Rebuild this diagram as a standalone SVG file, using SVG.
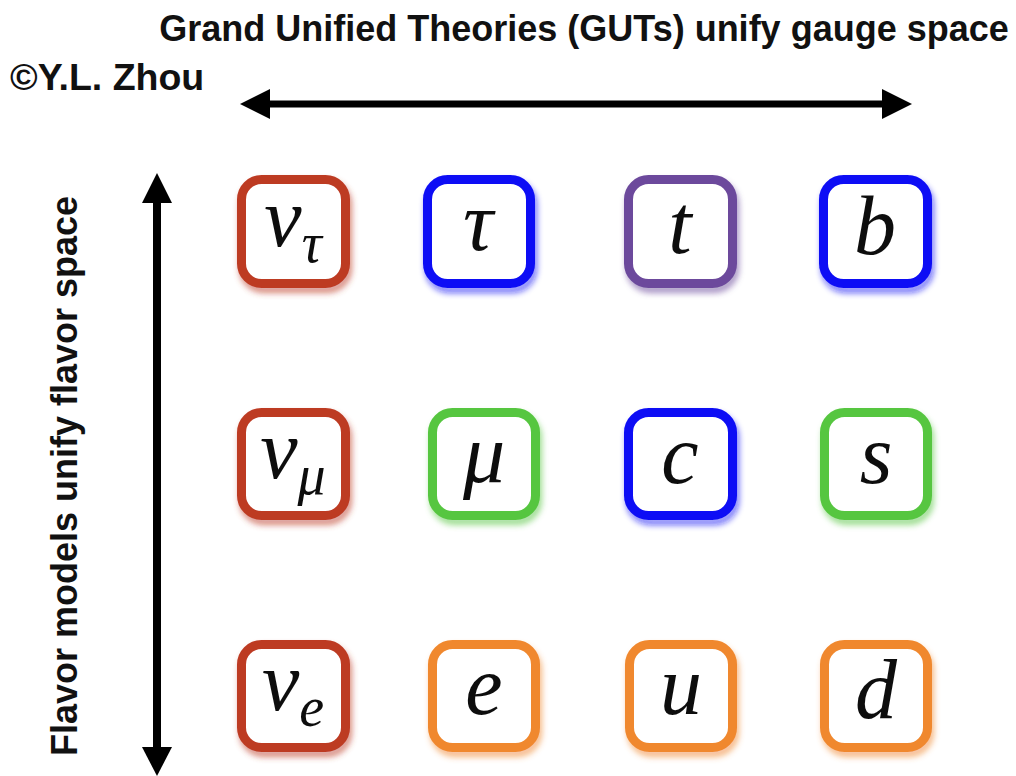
<svg xmlns="http://www.w3.org/2000/svg" width="1016" height="776" viewBox="0 0 1016 776">
<defs>
<style>
.lbl{font-family:"Liberation Sans",Arial,sans-serif;font-weight:bold;fill:#111}
.box{fill:#fff;stroke-width:9}
.m{font-family:"Liberation Serif","DejaVu Serif",serif;font-style:italic;font-size:84px;fill:#111;text-anchor:middle}
.s{font-size:56px}
.red{stroke:#bd3a24}.blue{stroke:#0a0af5}.pur{stroke:#6c4a9c}.grn{stroke:#56c640}.org{stroke:#f0882e}
.conn{stroke:#000;fill:none}
</style>
<filter id="sh" x="-20%" y="-20%" width="150%" height="150%">
<feGaussianBlur in="SourceGraphic" stdDeviation="3" result="b"/>
<feOffset in="b" dx="2" dy="5" result="o"/>
<feComponentTransfer in="o" result="t"><feFuncA type="linear" slope="0.6"/></feComponentTransfer>
<feMerge><feMergeNode in="t"/><feMergeNode in="SourceGraphic"/></feMerge>
</filter>
</defs>
<rect width="1016" height="776" fill="#fff"/>
<text class="lbl" x="584" y="41" font-size="36" text-anchor="middle">Grand Unified Theories (GUTs) unify gauge space</text>
<text class="lbl" x="10" y="90" font-size="37.5">©Y.L. Zhou</text>
<text class="lbl" font-size="36" text-anchor="middle" transform="translate(77 476) rotate(-90)">Flavor models unify flavor space</text>
<g id="connectors">
<line class="conn" x1="268" y1="104" x2="884" y2="104" stroke-width="7"/>
<polygon points="240,104 270,89 270,119" fill="#000"/>
<polygon points="912,104 882,89 882,119" fill="#000"/>
<line class="conn" x1="157" y1="200" x2="157" y2="750" stroke-width="8"/>
<polygon points="157,173 142,203 172,203" fill="#000"/>
<polygon points="157,776 142,747 172,747" fill="#000"/>
</g>
<g id="nu_tau" filter="url(#sh)"><rect class="box red" x="241.5" y="179.5" width="104" height="104" rx="20"/><text class="m" x="293" y="246">ν<tspan class="s" dy="16">τ</tspan></text></g>
<g id="tau" filter="url(#sh)"><rect class="box blue" x="427.5" y="179.5" width="103" height="104" rx="20"/><text class="m" x="478" y="250">τ</text></g>
<g id="t" filter="url(#sh)"><rect class="box pur" x="628.5" y="179.5" width="104" height="104" rx="20"/><text class="m" x="680" y="253">t</text></g>
<g id="b" filter="url(#sh)"><rect class="box blue" x="823.5" y="179.5" width="104" height="104" rx="20"/><text class="m" x="875" y="254">b</text></g>
<g id="nu_mu" filter="url(#sh)"><rect class="box red" x="241.5" y="412.5" width="104" height="103" rx="20"/><text class="m" x="293" y="478">ν<tspan class="s" dy="16">μ</tspan></text></g>
<g id="mu" filter="url(#sh)"><rect class="box grn" x="432.5" y="412.5" width="103" height="103" rx="20"/><text class="m" x="484" y="482">μ</text></g>
<g id="c" filter="url(#sh)"><rect class="box blue" x="628.5" y="412.5" width="104" height="103" rx="20"/><text class="m" x="680" y="483">c</text></g>
<g id="s" filter="url(#sh)"><rect class="box grn" x="824.5" y="412.5" width="103" height="103" rx="20"/><text class="m" x="876" y="483">s</text></g>
<g id="nu_e" filter="url(#sh)"><rect class="box red" x="241.5" y="644.5" width="104" height="103" rx="20"/><text class="m" x="293" y="710">ν<tspan class="s" dy="16">e</tspan></text></g>
<g id="e" filter="url(#sh)"><rect class="box org" x="432.5" y="644.5" width="103" height="103" rx="20"/><text class="m" x="484" y="714">e</text></g>
<g id="u" filter="url(#sh)"><rect class="box org" x="629.5" y="644.5" width="103" height="103" rx="20"/><text class="m" x="681" y="714">u</text></g>
<g id="d" filter="url(#sh)"><rect class="box org" x="824.5" y="644.5" width="103" height="103" rx="20"/><text class="m" x="876" y="718">d</text></g>
</svg>
